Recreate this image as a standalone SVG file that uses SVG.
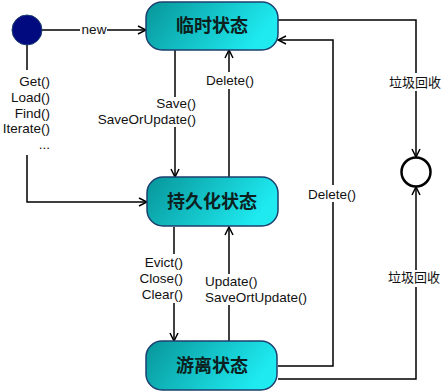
<svg xmlns="http://www.w3.org/2000/svg" width="448" height="392" viewBox="0 0 448 392">
<defs>
<linearGradient id="g" x1="0" y1="0" x2="1" y2="0.3">
<stop offset="0" stop-color="#079599"/>
<stop offset="1" stop-color="#1eeaf0"/>
</linearGradient>
<marker id="a" viewBox="0 0 10 10" refX="9" refY="5" markerWidth="10" markerHeight="10" markerUnits="userSpaceOnUse" orient="auto">
<path d="M1,1 L9,5 L1,9" fill="none" stroke="#000" stroke-width="1.5"/>
</marker>
<style>
.st{fill:url(#g);stroke:#1d3f6e;stroke-width:1.5}
.nt{font-family:"Noto Sans CJK SC","Noto Sans",sans-serif;font-size:18px;font-weight:bold;fill:#0d2020;text-anchor:middle}
.l{font-family:"Liberation Sans","Noto Sans CJK SC",sans-serif;font-size:13.5px;fill:#111}
.c{font-family:"Noto Sans CJK SC",sans-serif;font-size:13px;fill:#111;text-anchor:middle}
.e{text-anchor:end}
.m{text-anchor:middle}
.ln{fill:none;stroke:#000;stroke-width:1.5}
</style>
</defs>
<g id="connectors">
<path class="ln" d="M27,45 V70"/>
<path class="ln" d="M27,155 V202 H147" marker-end="url(#a)"/>
<path class="ln" d="M42,30 H80"/>
<path class="ln" d="M107,30 H146" marker-end="url(#a)"/>
<path class="ln" d="M175,50 V97"/>
<path class="ln" d="M175,127 V177" marker-end="url(#a)"/>
<path class="ln" d="M229,177 V89"/>
<path class="ln" d="M229,72 V50" marker-end="url(#a)"/>
<path class="ln" d="M278,20 H416 V73"/>
<path class="ln" d="M416,91 V157" marker-end="url(#a)"/>
<path class="ln" d="M278,366 H333 V202"/>
<path class="ln" d="M333,185 V40 H278" marker-end="url(#a)"/>
<path class="ln" d="M278,379 H416 V287"/>
<path class="ln" d="M416,270 V187" marker-end="url(#a)"/>
<path class="ln" d="M174,227 V254"/>
<path class="ln" d="M174,303 V341" marker-end="url(#a)"/>
<path class="ln" d="M229,341 V305"/>
<path class="ln" d="M229,274 V227" marker-end="url(#a)"/>
<text class="l m" x="94" y="34">new</text>
<text class="l e" x="50" y="86">Get()</text>
<text class="l e" x="50" y="102">Load()</text>
<text class="l e" x="50" y="118">Find()</text>
<text class="l e" x="50" y="133">Iterate()</text>
<text class="l e" x="50" y="149">...</text>
<text class="l e" x="196" y="108">Save()</text>
<text class="l e" x="196" y="124">SaveOrUpdate()</text>
<text class="l m" x="230" y="85">Delete()</text>
<text class="c" x="415" y="87">垃圾回收</text>
<text class="l m" x="332" y="199">Delete()</text>
<text class="c" x="414" y="282">垃圾回收</text>
<text class="l e" x="183" y="267">Evict()</text>
<text class="l e" x="183" y="283">Close()</text>
<text class="l e" x="183" y="299">Clear()</text>
<text class="l" x="205" y="286">Update()</text>
<text class="l" x="205" y="302">SaveOrtUpdate()</text>
</g>
<g id="start"><circle cx="27" cy="30" r="15" fill="#020a80" stroke="#1d3f6e" stroke-width="1"/></g>
<g id="end"><circle cx="416" cy="172" r="14.5" fill="#fff" stroke="#000" stroke-width="2.5"/></g>
<g id="temp"><rect class="st" x="146" y="2" width="132" height="48" rx="16"/><text class="nt" x="212" y="32">临时状态</text></g>
<g id="persist"><rect class="st" x="147" y="177" width="131" height="49" rx="16"/><text class="nt" x="212" y="208">持久化状态</text></g>
<g id="detached"><rect class="st" x="146" y="341" width="131" height="49" rx="16"/><text class="nt" x="212" y="372">游离状态</text></g>
</svg>
